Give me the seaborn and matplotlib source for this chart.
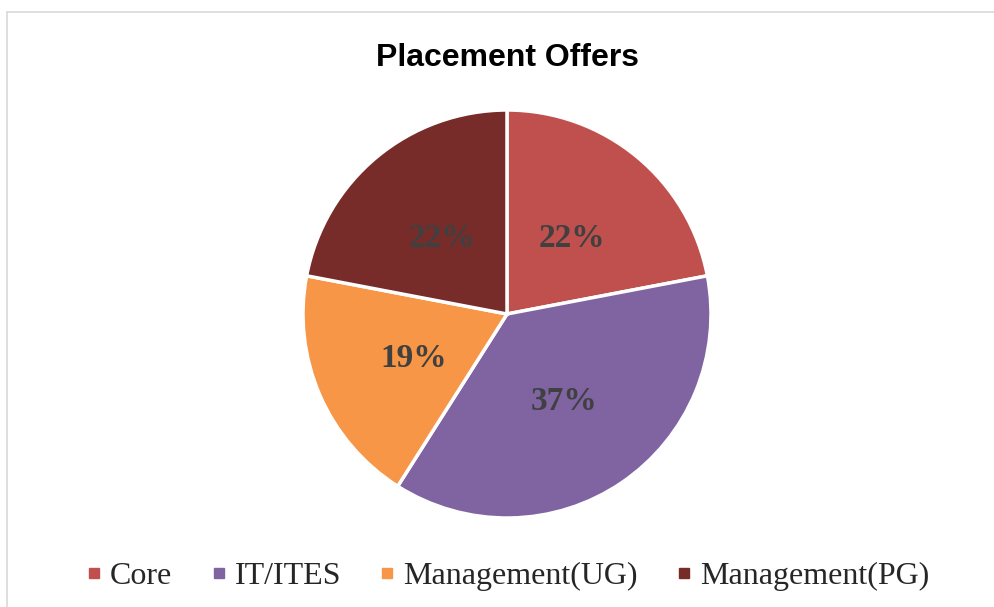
#!/usr/bin/env python3

import matplotlib
matplotlib.use("Agg")
import matplotlib.pyplot as plt
from matplotlib.lines import Line2D
import seaborn as sns

# Placement offers share by category
categories = ["Core", "IT/ITES", "Management(UG)", "Management(PG)"]
shares = [22, 37, 19, 22]
colors = ["#C0504D", "#8064A2", "#F79646", "#772C2A"]


def main():
    sns.set_theme(style="white")
    plt.rcParams["font.family"] = ["Liberation Serif", "DejaVu Serif"]

    W, H = 995, 607
    fig = plt.figure(figsize=(W / 100, H / 100), dpi=100)

    # pie axes, centre ~(507, 314) px, radius ~204 px
    cx, cy, r = 507, 314, 204
    ax = fig.add_axes([(cx - r) / W, (H - cy - r) / H, 2 * r / W, 2 * r / H])
    pal = sns.color_palette(colors)
    wedges, texts = ax.pie(shares,
                           colors=pal,
                           startangle=90,
                           counterclock=False,
                           labels=[f"{s}%" for s in shares],
                           labeldistance=0.5,
                           wedgeprops={"edgecolor": "white", "linewidth": 2.5})
    for t in texts:
        t.set_ha("center")
        t.set_va("center_baseline")
        t.set_fontsize(24)
        t.set_fontweight("bold")
        t.set_color("#404040")
    ax.set_xlim(-1, 1)
    ax.set_ylim(-1, 1)
    ax.set_aspect("equal")
    ax.axis("off")

    fig.text(cx / W, 1 - 58 / H, "Placement Offers",
             ha="center", va="center", fontsize=23, fontweight="bold",
             family=["Liberation Sans", "DejaVu Sans"], color="black")

    handles = [Line2D([], [], marker="s", linestyle="none", markersize=7.5,
                      markerfacecolor=c, markeredgecolor=c) for c in colors]
    fig.legend(handles, categories, loc="center", ncol=4,
               bbox_to_anchor=(0.511, 1 - 576 / H), frameon=False,
               fontsize=23, handlelength=0.4, handletextpad=0.3,
               columnspacing=1.25)

    # chart frame (light grey, cut off at right and bottom)
    fig.add_artist(Line2D([7.5 / W, 1.0], [1 - 11.5 / H, 1 - 11.5 / H],
                          color="#D9D9D9", linewidth=1.2))
    fig.add_artist(Line2D([7.5 / W, 7.5 / W], [0.0, 1 - 11.5 / H],
                          color="#D9D9D9", linewidth=1.2))

    fig.savefig("out.png", dpi=100, facecolor="white")
    plt.close(fig)


if __name__ == '__main__':
    main()
